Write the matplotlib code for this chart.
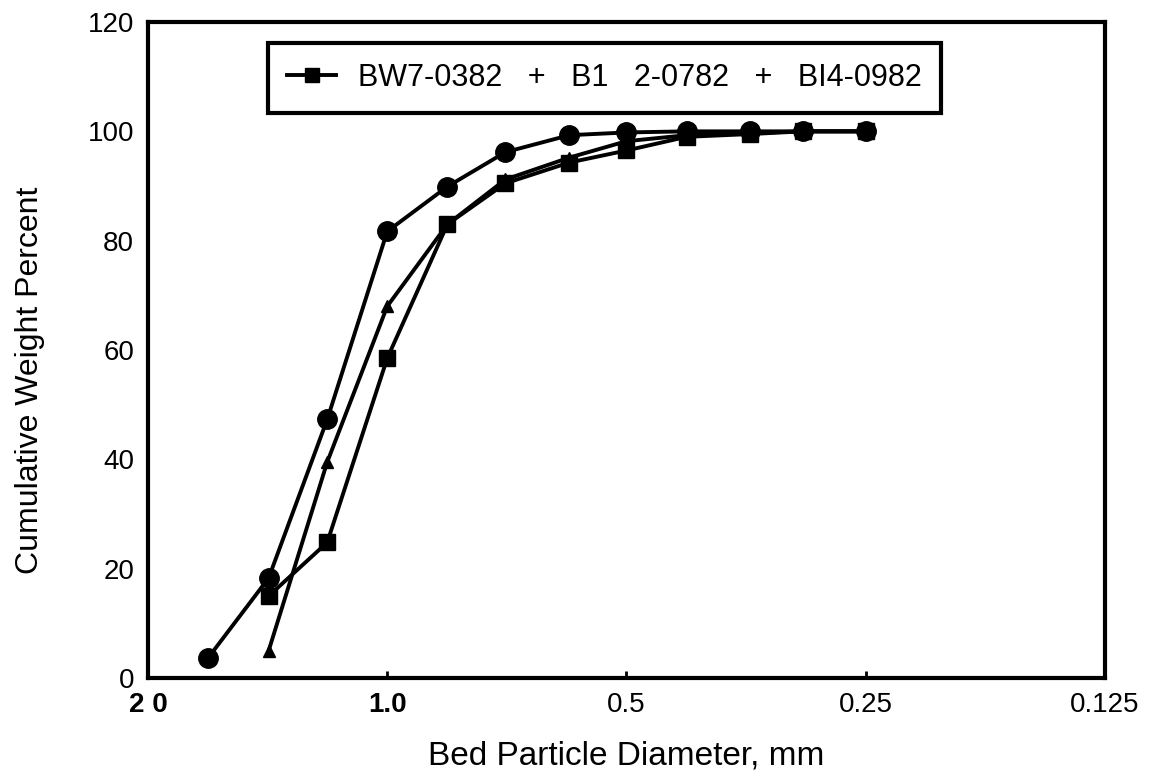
import matplotlib
matplotlib.use("Agg")
import matplotlib.pyplot as plt
from matplotlib.lines import Line2D

plt.rcParams['font.family'] = ['Liberation Sans', 'DejaVu Sans']

# sieve diameters, mm
diam = [1.68, 1.41, 1.19, 1.0, 0.84, 0.71, 0.59, 0.5, 0.42, 0.35, 0.30, 0.25]

# cumulative weight percent
circles = [3.7, 18.3, 47.3, 81.7, 89.9, 96.2, 99.3, 99.8, 100, 100, 100, 100]
squares = [None, 15.0, 24.8, 58.5, 83.0, 90.5, 94.3, 96.5, 99.0, 99.5, 100, 100]
triangles = [None, 5.0, 39.5, 68.0, 83.0, 91.2, 95.2, 98.2, 99.3, 99.7, 100, 100]

xticks = [2.0, 1.0, 0.5, 0.25, 0.125]
xticklabels = ["2 0", "1.0", "0.5", "0.25", "0.125"]
yticks = [0, 20, 40, 60, 80, 100, 120]

legend_label = "BW7-0382   +   B1   2-0782   +   BI4-0982"


def pairs(xs, ys):
    px, py = [], []
    for a, b in zip(xs, ys):
        if b is not None:
            px.append(a)
            py.append(b)
    return px, py


fig = plt.figure(figsize=(11.71, 7.78), dpi=100)
ax = fig.add_axes([0.1264, 0.1285, 0.8172, 0.8432])

lw = 2.8
x, y = pairs(diam, squares)
ax.plot(x, y, color='black', lw=lw, marker='s', ms=12, zorder=3)
x, y = pairs(diam, triangles)
ax.plot(x, y, color='black', lw=lw, marker='^', ms=9, zorder=3)
x, y = pairs(diam, circles)
ax.plot(x, y, color='black', lw=lw, marker='o', ms=14, zorder=4)

ax.set_xscale('log')
ax.set_xlim(2.0, 0.125)
ax.set_ylim(0, 120)
ax.set_xticks(xticks)
ax.set_xticklabels(xticklabels)
ax.minorticks_off()
ax.set_yticks(yticks)

for lbl in ax.get_xticklabels():
    if lbl.get_text() in ("2 0", "1.0"):
        lbl.set_fontweight('bold')

ax.tick_params(axis='x', direction='in', length=5, width=2, pad=10, labelsize=20)
ax.tick_params(axis='y', length=0, pad=10, labelsize=20)

for s in ax.spines.values():
    s.set_linewidth(3)
    s.set_color('black')

ax.set_xlabel("Bed Particle Diameter, mm", fontsize=24, labelpad=16)
ax.set_ylabel("Cumulative Weight Percent", fontsize=23)
ax.yaxis.set_label_coords(-0.108, 0.454)

handle = Line2D([], [], color='black', lw=2.8, marker='s', ms=10)
leg = ax.legend([handle], [legend_label], loc='upper left',
                bbox_to_anchor=(0.125, 0.968), fontsize=22,
                frameon=True, fancybox=False, handlelength=1.6,
                borderpad=0.65, borderaxespad=0, handletextpad=0.7)
leg.get_frame().set_edgecolor('black')
leg.get_frame().set_linewidth(3)
leg.get_frame().set_alpha(1)

fig.savefig("out.png", dpi=100)
